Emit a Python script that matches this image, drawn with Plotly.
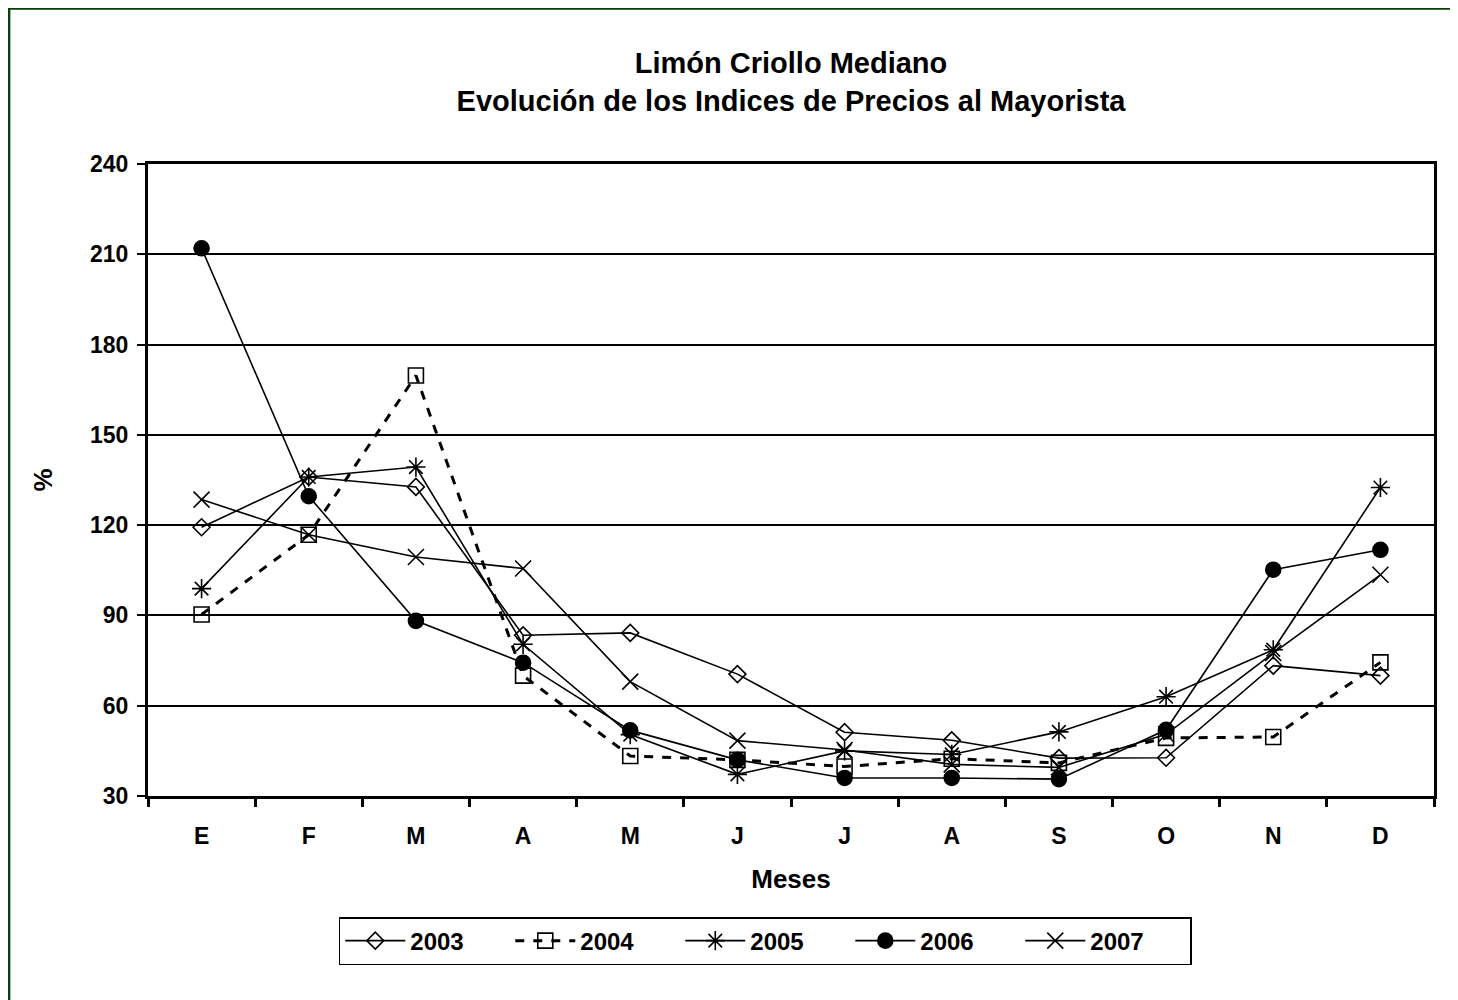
import plotly.graph_objects as go

meses = ["E", "F", "M", "A", "M", "J", "J", "A", "S", "O", "N", "D"]

v2003 = [119.3, 136.0, 132.7, 83.4, 84.2, 70.5, 51.2, 48.5, 42.6, 42.7, 73.3, 70.0]
v2004 = [90.3, 116.8, 169.7, 70.0, 43.3, 42.0, 39.8, 42.4, 41.0, 49.3, 49.6, 74.4]
v2005 = [98.9, 136.0, 139.3, 80.4, 50.4, 37.2, 45.0, 43.8, 51.3, 63.0, 78.6, 132.5]
v2006 = [212.0, 129.6, 88.2, 74.3, 51.8, 42.0, 36.0, 36.0, 35.6, 52.0, 105.2, 111.8]
v2007 = [128.5, 116.8, 109.4, 105.6, 68.0, 48.4, 45.3, 40.5, 39.5, 50.5, 77.5, 103.5]

x = list(range(len(meses)))
FONT = "Liberation Sans, Arial, sans-serif"

fig = go.Figure()

# (name, values, marker symbol, marker size, line dash, line width)
series = [
    ("2003", v2003, "diamond-open", 13, "solid", 1.6),
    ("2004", v2004, "square-open", 15, "dash", 3),
    ("2005", v2005, "asterisk-open", 16, "solid", 1.6),
    ("2006", v2006, "circle", 15, "solid", 1.6),
    ("2007", v2007, "x-thin-open", 16, "solid", 1.6),
]

for name, vals, sym, size, dash, lw in series:
    fig.add_trace(go.Scatter(
        x=x, y=vals, name=name, mode="lines+markers",
        line=dict(color="black", width=lw, dash=dash),
        marker=dict(symbol=sym, size=size, color="black",
                    line=dict(color="black", width=1.6))))

fig.update_xaxes(
    range=[-0.5, 11.5], tickmode="array", tickvals=x, ticktext=meses,
    ticks="", showgrid=False, zeroline=False, ticklabelstandoff=17,
    showline=True, linecolor="black", linewidth=3, mirror=True,
    tickfont=dict(family=FONT, size=23, color="black", weight="bold"),
    title=dict(text="<b>Meses</b>", font=dict(family=FONT, size=26, color="black"), standoff=23),
    minor=dict(tick0=-0.5, dtick=1, ticks="outside", ticklen=8, tickwidth=3, tickcolor="black", showgrid=False))

fig.update_yaxes(
    range=[30, 240], dtick=30, tick0=30,
    ticks="outside", ticklen=8, tickwidth=1.5, tickcolor="black", ticklabelstandoff=4,
    showgrid=True, gridcolor="black", gridwidth=2, zeroline=False,
    showline=True, linecolor="black", linewidth=3, mirror=True,
    tickfont=dict(family=FONT, size=23, color="black", weight="bold"),
    title=dict(text="<b>%</b>", font=dict(family=FONT, size=26, color="black"), standoff=30))

fig.update_layout(
    width=1458, height=1000,
    margin=dict(l=140, r=32, t=156, b=212),
    paper_bgcolor="white", plot_bgcolor="white",
    font=dict(family=FONT, color="black"),
    title=dict(text="<b>Limón Criollo Mediano<br>Evolución de los Indices de Precios al Mayorista</b>",
               x=0.5, xref="paper", y=0.935, yanchor="middle",
               font=dict(family=FONT, size=29, color="black")),
    legend=dict(orientation="h", x=0.48, xanchor="center", y=-0.1915, yanchor="top",
                bordercolor="black", borderwidth=1.5, bgcolor="white",
                font=dict(family=FONT, size=24, color="black", weight="bold"),
                itemwidth=60, entrywidth=95, entrywidthmode="pixels", tracegroupgap=0),
    shapes=[dict(type="rect", xref="paper", yref="paper",
                 x0=-0.108, x1=1.2, y0=-0.4, y1=1.246,
                 line=dict(color="#0d3d0d", width=2.5), layer="below")],
    showlegend=True)

fig.write_html("out.html")
